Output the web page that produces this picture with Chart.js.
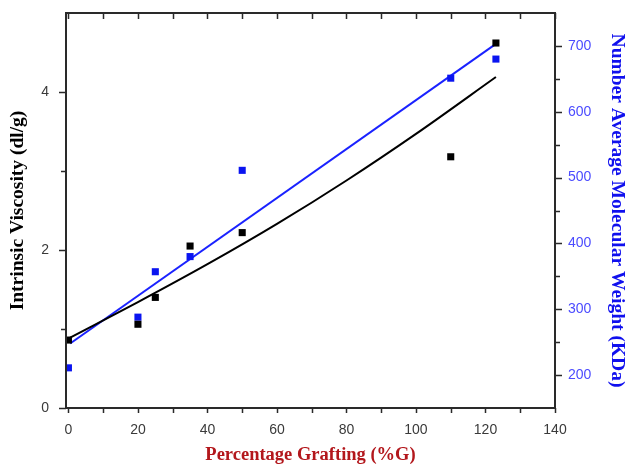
<!DOCTYPE html>
<html>
<head>
<meta charset="utf-8">
<script src="https://cdn.jsdelivr.net/npm/chart.js@4.4.1/dist/chart.umd.min.js"></script>
<style>
  html, body { margin: 0; padding: 0; background: #ffffff; }
  #wrap { width: 625px; height: 467px; }
</style>
</head>
<body>
<div id="wrap"><canvas id="c" width="625" height="467"></canvas></div>
<script>
// ---- data ----
const grafting = [0, 20, 25, 35, 50, 110, 123];
const viscosity = [0.86, 1.06, 1.40, 2.05, 2.22, 3.18, 4.62];
const molWeight = [211, 288, 357, 380, 511, 651, 680];
const viscFitX = [0.5, 20, 40, 60, 80, 100, 123];
const viscFitY = [0.89, 1.34, 1.82, 2.33, 2.88, 3.47, 4.19];
const mwFitX = [0.5, 123];
const mwFitY = [248, 703];

const xLabelTicks = [0, 20, 40, 60, 80, 100, 120, 140];
const xMarkTicks = [0, 10, 20, 30, 40, 50, 60, 70, 80, 90, 100, 110, 120, 130, 140];
const yLabelTicks = [0, 2, 4];
const yMarkTicks = [0, 1, 2, 3, 4];
const y1LabelTicks = [200, 300, 400, 500, 600, 700];
const y1MarkTicks = [200, 250, 300, 350, 400, 450, 500, 550, 600, 650, 700];

const toXY = (xs, ys) => xs.map((x, i) => ({ x: x, y: ys[i] }));

const axisDecor = {
  id: 'axisDecor',
  afterDatasetsDraw(chart) {
    const { ctx, chartArea: a, scales } = chart;
    ctx.save();
    ctx.strokeStyle = '#2a2a2a';
    ctx.lineWidth = 1.5;
    ctx.beginPath();
    xMarkTicks.forEach(v => {
      const px = Math.round(scales.x.getPixelForValue(v)) + 0.5;
      ctx.moveTo(px, a.bottom); ctx.lineTo(px, a.bottom + 5);
      ctx.moveTo(px, a.top); ctx.lineTo(px, a.top + 6);
    });
    yMarkTicks.forEach(v => {
      const py = Math.round(scales.y.getPixelForValue(v)) + 0.5;
      const len = yLabelTicks.includes(v) ? 7 : 5;
      ctx.moveTo(a.left, py); ctx.lineTo(a.left - len, py);
    });
    y1MarkTicks.forEach(v => {
      const py = Math.round(scales.y1.getPixelForValue(v)) + 0.5;
      const len = y1LabelTicks.includes(v) ? 7 : 5;
      ctx.moveTo(a.right, py); ctx.lineTo(a.right + len, py);
    });
    ctx.stroke();
    ctx.lineWidth = 2;
    ctx.strokeRect(a.left, a.top, a.right - a.left, a.bottom - a.top);
    ctx.restore();
  }
};

const zeroPad = s => { s.paddingTop = 0; s.paddingBottom = 0; s.paddingLeft = 0; s.paddingRight = 0; };
const tickFont = { family: '"Liberation Sans", Arial, sans-serif', size: 14 };
const serif = '"Liberation Serif", "Times New Roman", serif';

new Chart(document.getElementById('c'), {
  type: 'scatter',
  data: {
    datasets: [
      {
        label: 'Intrinsic Viscosity',
        data: toXY(grafting, viscosity),
        yAxisID: 'y',
        pointStyle: 'rect',
        pointRadius: 5,
        backgroundColor: '#000000',
        borderColor: '#000000',
        borderWidth: 0,
        order: 0
      },
      {
        label: 'Molecular Weight',
        data: toXY(grafting, molWeight),
        yAxisID: 'y1',
        pointStyle: 'rect',
        pointRadius: 5,
        backgroundColor: '#0a14f0',
        borderColor: '#0a14f0',
        borderWidth: 0,
        order: 0
      },
      {
        label: 'Viscosity fit',
        type: 'line',
        data: toXY(viscFitX, viscFitY),
        yAxisID: 'y',
        borderColor: '#000000',
        borderWidth: 2,
        pointRadius: 0,
        fill: false,
        cubicInterpolationMode: 'monotone',
        order: 1
      },
      {
        label: 'MW fit',
        type: 'line',
        data: toXY(mwFitX, mwFitY),
        yAxisID: 'y1',
        borderColor: '#1a22ff',
        borderWidth: 2,
        pointRadius: 0,
        fill: false,
        order: 1
      }
    ]
  },
  options: {
    responsive: false,
    animation: false,
    layout: { padding: { top: 13, left: 0, right: 0, bottom: 0 } },
    plugins: { legend: { display: false }, tooltip: { enabled: false } },
    scales: {
      x: {
        type: 'linear',
        position: 'bottom',
        min: -0.7,
        max: 140,
        afterBuildTicks: s => { s.ticks = xLabelTicks.map(v => ({ value: v })); },
        afterFit: s => { s.height = 59; zeroPad(s); },
        grid: { display: false, drawTicks: false },
        border: { display: false },
        ticks: { font: tickFont, color: '#3a3a3a', padding: 14, maxRotation: 0 },
        title: { display: true, text: 'Percentage Grafting (%G)', color: '#b3171c',
                 font: { family: serif, size: 18.5, weight: 'bold', lineHeight: 1 }, padding: { top: 0, bottom: 3 } }
      },
      y: {
        type: 'linear',
        position: 'left',
        min: 0,
        max: 5,
        afterBuildTicks: s => { s.ticks = yLabelTicks.map(v => ({ value: v })); },
        afterFit: s => { s.width = 66; zeroPad(s); },
        grid: { display: false, drawTicks: false },
        border: { display: false },
        ticks: { font: tickFont, color: '#3a3a3a', padding: 17 },
        title: { display: true, text: 'Intrinsic Viscosity (dl/g)', color: '#000000',
                 font: { family: serif, size: 19.5, weight: 'bold', lineHeight: 1 }, padding: { top: 8, bottom: 0 } }
      },
      y1: {
        type: 'linear',
        position: 'right',
        min: 150,
        max: 750,
        afterBuildTicks: s => { s.ticks = y1LabelTicks.map(v => ({ value: v })); },
        afterFit: s => { s.width = 70; zeroPad(s); },
        grid: { display: false, drawTicks: false },
        border: { display: false },
        ticks: { font: tickFont, color: '#4b4bff', padding: 13 },
        title: { display: true, text: 'Number Average Molecular Weight (KDa)', color: '#1010ee',
                 font: { family: serif, size: 19.5, weight: 'bold', lineHeight: 1 }, padding: { top: -2, bottom: 0 } }
      }
    }
  },
  plugins: [axisDecor]
});
</script>
</body>
</html>
